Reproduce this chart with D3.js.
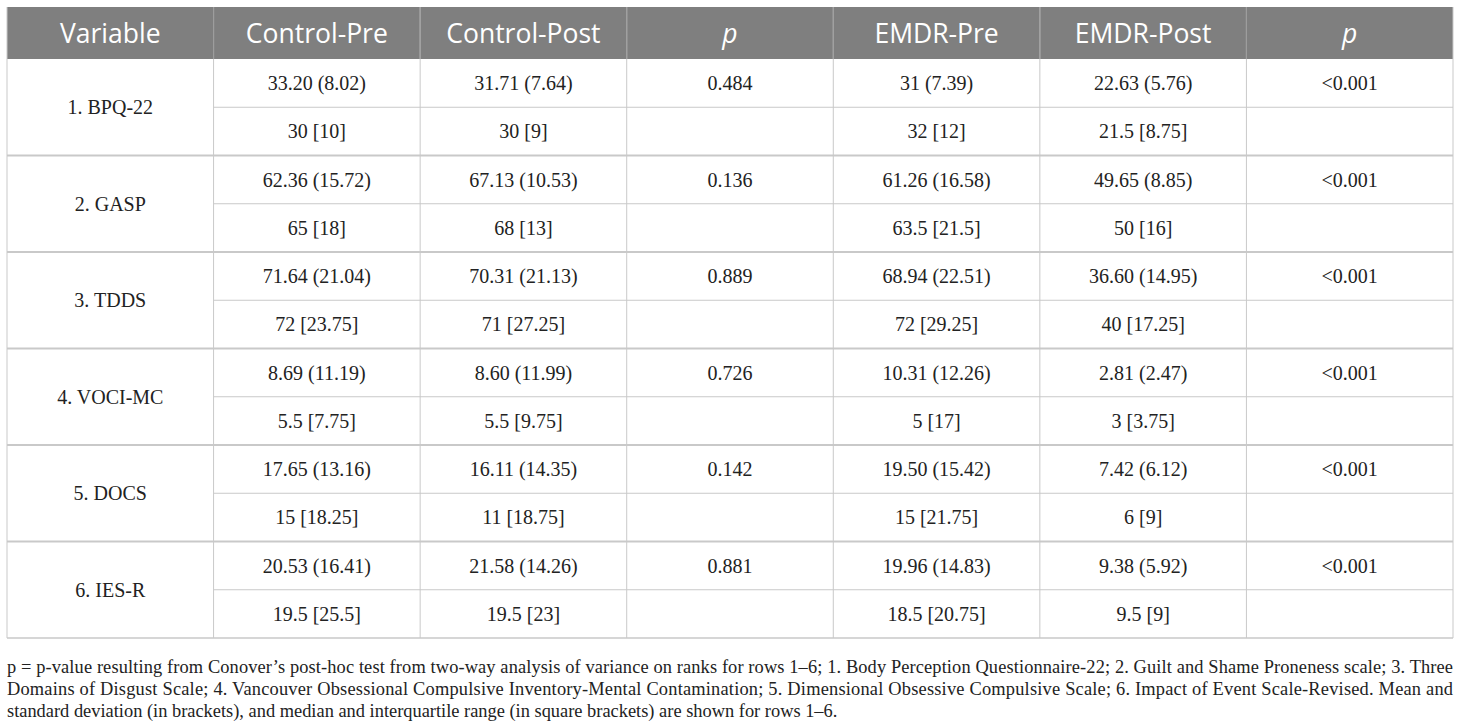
<!DOCTYPE html>
<html>
<head>
<meta charset="utf-8">
<script src="https://cdn.jsdelivr.net/npm/d3@7"></script>
<style>
  body { margin: 0; background: #fff; }
  svg { display: block; }
</style>
</head>
<body>
<div class="graph"></div>
<script>
var headers = ['Variable', 'Control-Pre', 'Control-Post', 'p', 'EMDR-Pre', 'EMDR-Post', 'p']
var italicHeader = [false, false, false, true, false, false, true]

var variables = ['1. BPQ-22', '2. GASP', '3. TDDS', '4. VOCI-MC', '5. DOCS', '6. IES-R']

// mean (sd) per group
var controlPreMean = ['33.20 (8.02)', '62.36 (15.72)', '71.64 (21.04)', '8.69 (11.19)', '17.65 (13.16)', '20.53 (16.41)']
var controlPostMean = ['31.71 (7.64)', '67.13 (10.53)', '70.31 (21.13)', '8.60 (11.99)', '16.11 (14.35)', '21.58 (14.26)']
var controlP = ['0.484', '0.136', '0.889', '0.726', '0.142', '0.881']
var emdrPreMean = ['31 (7.39)', '61.26 (16.58)', '68.94 (22.51)', '10.31 (12.26)', '19.50 (15.42)', '19.96 (14.83)']
var emdrPostMean = ['22.63 (5.76)', '49.65 (8.85)', '36.60 (14.95)', '2.81 (2.47)', '7.42 (6.12)', '9.38 (5.92)']
var emdrP = ['<0.001', '<0.001', '<0.001', '<0.001', '<0.001', '<0.001']

// median [iqr]
var controlPreMed = ['30 [10]', '65 [18]', '72 [23.75]', '5.5 [7.75]', '15 [18.25]', '19.5 [25.5]']
var controlPostMed = ['30 [9]', '68 [13]', '71 [27.25]', '5.5 [9.75]', '11 [18.75]', '19.5 [23]']
var emdrPreMed = ['32 [12]', '63.5 [21.5]', '72 [29.25]', '5 [17]', '15 [21.75]', '18.5 [20.75]']
var emdrPostMed = ['21.5 [8.75]', '50 [16]', '40 [17.25]', '3 [3.75]', '6 [9]', '9.5 [9]']

var footLines = [
  'p = p-value resulting from Conover\u2019s post-hoc test from two-way analysis of variance on ranks for rows 1\u20136; 1. Body Perception Questionnaire-22; 2. Guilt and Shame Proneness scale; 3. Three',
  'Domains of Disgust Scale; 4. Vancouver Obsessional Compulsive Inventory-Mental Contamination; 5. Dimensional Obsessive Compulsive Scale; 6. Impact of Event Scale-Revised. Mean and',
  'standard deviation (in brackets), and median and interquartile range (in square brackets) are shown for rows 1\u20136.'
]

var width = 1460, height = 725
var tLeft = 7, tRight = 1453, tTop = 7, headH = 52, tBottom = 638

var svg = d3.select('.graph').append('svg')
  .attr('width', width).attr('height', height)

var x = d3.scaleBand().domain(d3.range(headers.length)).range([tLeft, tRight])
var subRows = d3.range(variables.length * 2)
var y = d3.scaleBand().domain(subRows).range([tTop + headH, tBottom])

var serif = '"Liberation Serif", "DejaVu Serif", serif'
var lineColor = '#c9c9c9'
var cellSize = 20

// header
svg.append('rect')
  .attr('x', tLeft).attr('y', tTop)
  .attr('width', tRight - tLeft).attr('height', headH)
  .attr('fill', '#7f7f7f')

// body cells
var cols = [
  [controlPreMean, controlPreMed],
  [controlPostMean, controlPostMed],
  [controlP, null],
  [emdrPreMean, emdrPreMed],
  [emdrPostMean, emdrPostMed],
  [emdrP, null]
]

var cells = []
variables.forEach((v, vi) => {
  cols.forEach((pair, ci) => {
    cells.push({col: ci + 1, row: vi * 2, str: pair[0][vi]})
    if (pair[1]) cells.push({col: ci + 1, row: vi * 2 + 1, str: pair[1][vi]})
  })
})

// grid lines
var g = svg.append('g')
g.selectAll('line.sub').data(variables).join('line')
  .attr('class', 'sub')
  .attr('x1', x(1)).attr('x2', tRight)
  .attr('y1', (d, i) => y(i * 2 + 1)).attr('y2', (d, i) => y(i * 2 + 1))
  .attr('stroke', lineColor).attr('stroke-width', 1)
g.selectAll('line.grp').data(variables).join('line')
  .attr('class', 'grp')
  .attr('x1', tLeft).attr('x2', tRight)
  .attr('y1', (d, i) => y(i * 2) + y.bandwidth() * 2)
  .attr('y2', (d, i) => y(i * 2) + y.bandwidth() * 2)
  .attr('stroke', lineColor).attr('stroke-width', (d, i) => i < variables.length - 1 ? 2 : 1.5)
g.selectAll('line.v').data(d3.range(headers.length + 1)).join('line')
  .attr('class', 'v')
  .attr('x1', i => i < headers.length ? x(i) : tRight)
  .attr('x2', i => i < headers.length ? x(i) : tRight)
  .attr('y1', tTop).attr('y2', tBottom)
  .attr('stroke', lineColor)
  .attr('stroke-width', 1)
g.selectAll('line.hv').data(d3.range(1, headers.length)).join('line')
  .attr('class', 'hv')
  .attr('x1', i => x(i)).attr('x2', i => x(i))
  .attr('y1', tTop).attr('y2', tTop + headH)
  .attr('stroke', '#9a9a9a').attr('stroke-width', 1)

svg.selectAll('text.head').data(headers).join('text')
  .attr('class', 'head')
  .attr('x', (d, i) => x(i) + x.bandwidth() / 2)
  .attr('y', tTop + headH / 2)
  .attr('dy', '0.36em')
  .attr('text-anchor', 'middle')
  .attr('fill', '#fff')
  .attr('font-family', '"Open Sans", sans-serif')
  .attr('font-size', 26.5)
  .attr('font-style', (d, i) => italicHeader[i] ? 'italic' : 'normal')
  .text(d => d)

svg.selectAll('text.cell').data(cells).join('text')
  .attr('class', 'cell')
  .attr('x', d => x(d.col) + x.bandwidth() / 2)
  .attr('y', d => y(d.row) + y.bandwidth() / 2)
  .attr('dy', '0.35em')
  .attr('text-anchor', 'middle')
  .attr('font-family', serif)
  .attr('font-size', cellSize)
  .attr('fill', '#222')
  .text(d => d.str)

svg.selectAll('text.var').data(variables).join('text')
  .attr('class', 'var')
  .attr('x', x(0) + x.bandwidth() / 2)
  .attr('y', (d, i) => y(i * 2) + y.bandwidth())
  .attr('dy', '0.35em')
  .attr('text-anchor', 'middle')
  .attr('font-family', serif)
  .attr('font-size', cellSize)
  .attr('fill', '#222')
  .text(d => d)

// footnote
var footSel = svg.selectAll('text.foot').data(footLines).join('text')
  .attr('class', 'foot')
  .attr('x', tLeft)
  .attr('y', (d, i) => 673 + i * 22)
  .attr('font-family', serif)
  .attr('font-size', 17)
  .attr('fill', '#222')
  .text(d => d)

// fit last line to its width in the reference, then justify the first two
var w3 = footSel.nodes()[2].getComputedTextLength()
var fs = Math.min(18.5, 17 * 831 / w3)
footSel.attr('font-size', fs)
footSel.filter((d, i) => i < 2)
  .attr('textLength', tRight - tLeft)
  .attr('lengthAdjust', 'spacing')
</script>
</body>
</html>
